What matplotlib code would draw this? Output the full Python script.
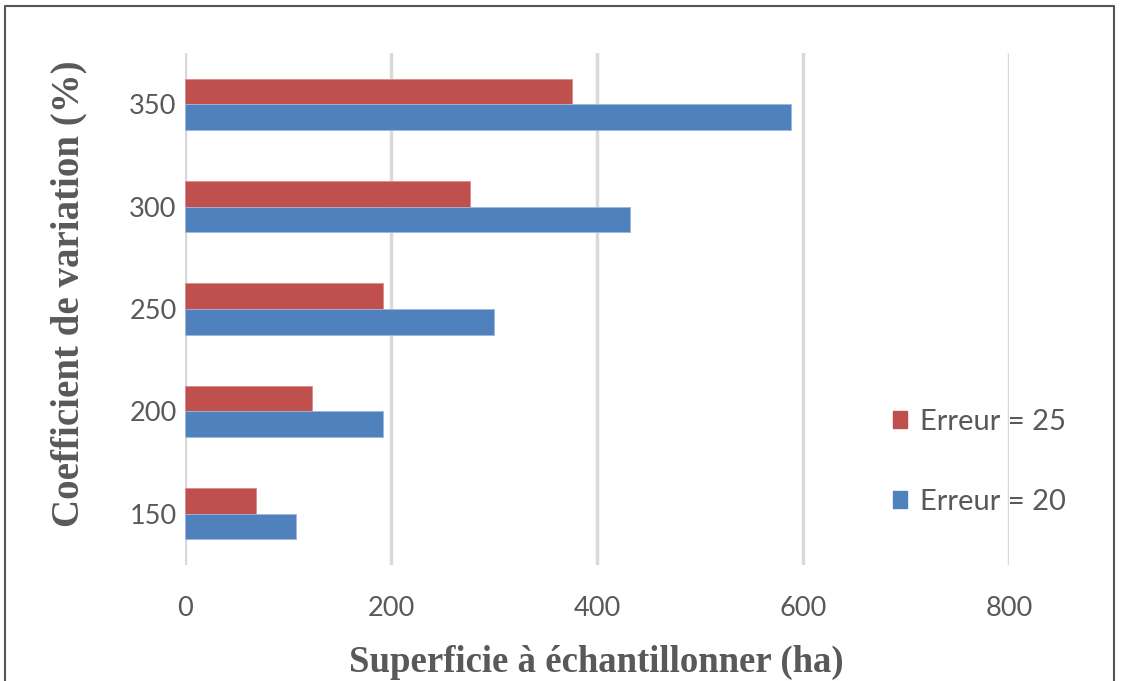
import numpy as np
import matplotlib.pyplot as plt
from matplotlib.lines import Line2D
from matplotlib.patches import Patch

# Coefficient de variation (%) et superficie à échantillonner (ha)
cv = ['150', '200', '250', '300', '350']
erreur_20 = [108, 192, 300, 432, 588]
erreur_25 = [69, 123, 192, 277, 376]

rouge = '#C0504D'
bleu = '#4F81BD'
gris = '#595959'

fig = plt.figure(figsize=(11.21, 6.81), dpi=100)
ax = fig.add_axes([0.165, 0.1703, 0.7352, 0.7519])

y = np.arange(len(cv))
h = 0.25
ax.barh(y + h/2, erreur_25, height=h, color=rouge, edgecolor='#d98c8a', linewidth=0.6, zorder=3)
ax.barh(y - h/2, erreur_20, height=h, color=bleu, edgecolor='#9db8dd', linewidth=0.6, zorder=3)

ax.set_xlim(0, 800)
ax.set_ylim(-0.5, len(cv) - 0.5)
ax.set_xticks([0, 200, 400, 600, 800])
ax.set_yticks(y)
ax.set_yticklabels(cv)
ax.grid(axis='x', color='#d9d9d9', linewidth=2.5, zorder=0)
ax.set_axisbelow(True)
for s in ax.spines.values():
    s.set_visible(False)
ax.tick_params(length=0, labelsize=19.5, labelcolor=gris, pad=6)
ax.tick_params(axis='x', pad=22)
for lab in ax.get_xticklabels() + ax.get_yticklabels():
    lab.set_family('Lato')

ax.set_xlabel('Superficie à échantillonner (ha)', family='Liberation Serif',
              fontweight='bold', fontsize=26.5, color=gris)
ax.set_ylabel('Coefficient de variation (%)', family='Liberation Serif',
              fontweight='bold', fontsize=28, color=gris)
ax.xaxis.set_label_coords(0.499, -0.155)
ax.yaxis.set_label_coords(-0.118, 0.53)

# légende à droite
handles = [Patch(color=rouge, label='Erreur = 25'), Patch(color=bleu, label='Erreur = 20')]
fig.legend(handles=handles, loc='center left', bbox_to_anchor=(0.7834, 0.322),
           frameon=False, handlelength=0.5, handleheight=0.5, handletextpad=0.45,
           labelspacing=1.85, borderpad=0,
           prop={'family': 'Lato', 'size': 21}, labelcolor=gris)

# cadre autour du graphique
bx0, bx1, by1 = 5/1121, 1114/1121, 1 - 6/681
fig.add_artist(Line2D([bx0, bx0, bx1, bx1], [0, by1, by1, 0],
                      transform=fig.transFigure, color='#555555', linewidth=1.5))

plt.savefig('out.png', dpi=100)
